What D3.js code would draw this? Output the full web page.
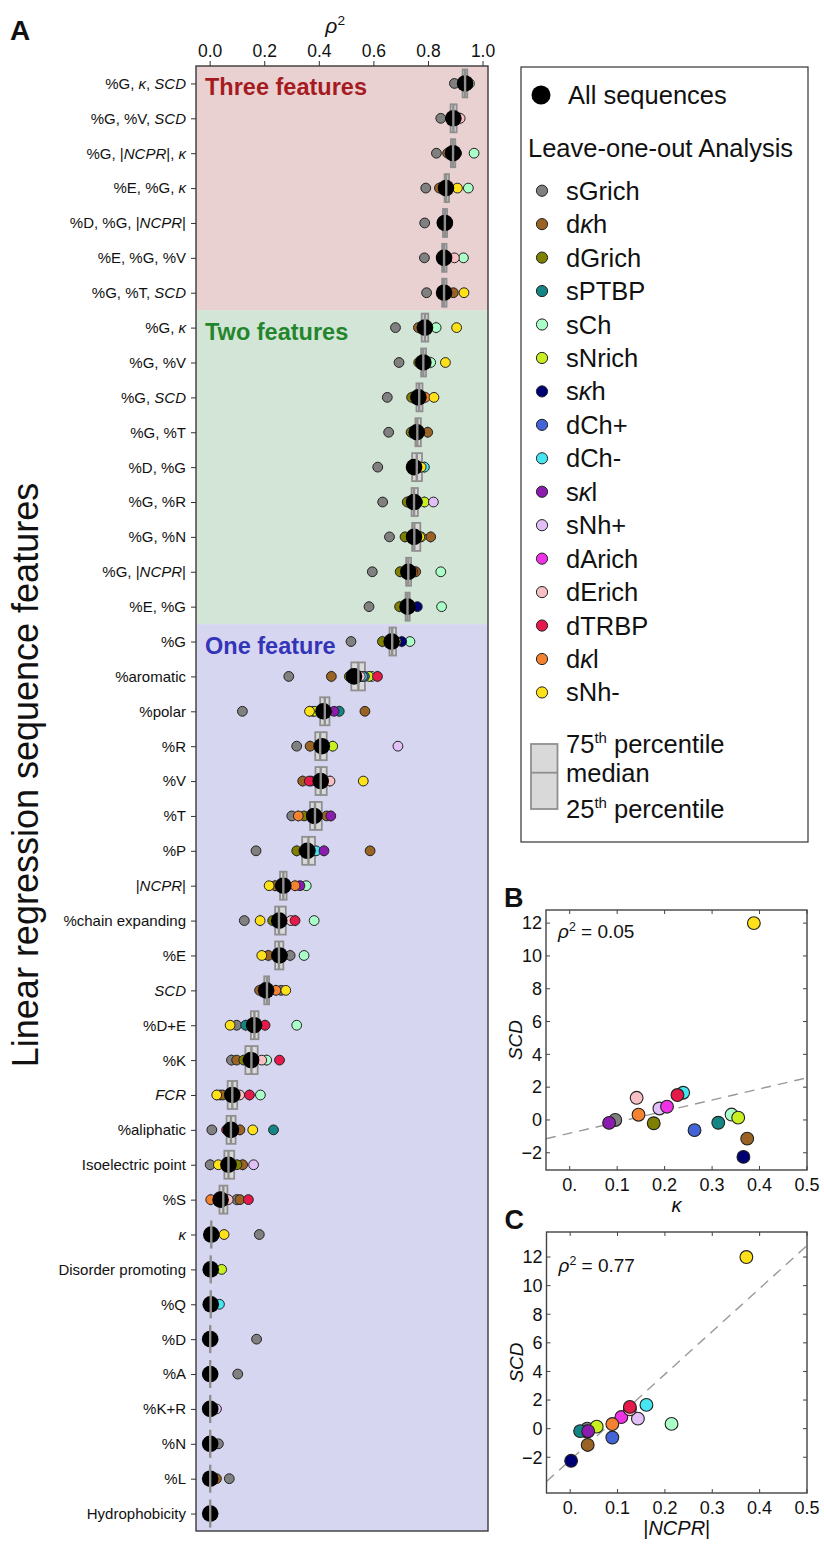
<!DOCTYPE html>
<html>
<head>
<meta charset="utf-8">
<script src="https://cdn.jsdelivr.net/npm/d3@7"></script>
<style>
  body { margin: 0; background: #fff; }
  svg { display: block; }
  text { font-family: "Liberation Sans", Arial, Helvetica, sans-serif; fill: #111; }
</style>
</head>
<body>
<svg id="fig" width="824" height="1546"></svg>
<script>
// ---------- data ----------
// Feature sets (underscores mark italic runs)
const features = [
  "%G, _κ_, _SCD_", "%G, %V, _SCD_", "%G, |_NCPR_|, _κ_", "%E, %G, _κ_", "%D, %G, |_NCPR_|",
  "%E, %G, %V", "%G, %T, _SCD_",
  "%G, _κ_", "%G, %V", "%G, _SCD_", "%G, %T", "%D, %G", "%G, %R", "%G, %N", "%G, |_NCPR_|", "%E, %G",
  "%G", "%aromatic", "%polar", "%R", "%V", "%T", "%P", "|_NCPR_|", "%chain expanding", "%E",
  "_SCD_", "%D+E", "%K", "_FCR_", "%aliphatic", "Isoelectric point", "%S", "_κ_",
  "Disorder promoting", "%Q", "%D", "%A", "%K+R", "%N", "%L", "Hydrophobicity"
];

// rho^2 with all sequences
const allSeq = [
  0.936, 0.893, 0.892, 0.866, 0.862, 0.859, 0.859,
  0.789, 0.783, 0.765, 0.759, 0.749, 0.749, 0.749, 0.728, 0.725,
  0.667, 0.529, 0.417, 0.411, 0.407, 0.383, 0.358, 0.270, 0.255, 0.256,
  0.207, 0.163, 0.152, 0.083, 0.078, 0.069, 0.040, 0.006,
  0.004, 0.004, 0.002, 0.002, 0.002, 0.002, 0.002, 0.002
];

// Leave-one-out percentiles
const q25 = [
  0.927, 0.883, 0.884, 0.861, 0.855, 0.852, 0.852,
  0.777, 0.775, 0.758, 0.754, 0.742, 0.740, 0.742, 0.720, 0.718,
  0.659, 0.519, 0.405, 0.387, 0.388, 0.368, 0.339, 0.258, 0.240, 0.240,
  0.200, 0.151, 0.131, 0.066, 0.062, 0.054, 0.036, 0.006,
  0.004, 0.004, 0.002, 0.002, 0.002, 0.002, 0.002, 0.002
];
const q50 = [
  0.936, 0.893, 0.892, 0.867, 0.862, 0.859, 0.859,
  0.789, 0.783, 0.768, 0.761, 0.759, 0.749, 0.750, 0.728, 0.725,
  0.669, 0.545, 0.422, 0.405, 0.407, 0.386, 0.362, 0.270, 0.254, 0.254,
  0.210, 0.164, 0.153, 0.083, 0.078, 0.069, 0.050, 0.006,
  0.004, 0.004, 0.002, 0.002, 0.002, 0.002, 0.002, 0.002
];
const q75 = [
  0.944, 0.905, 0.900, 0.877, 0.870, 0.868, 0.868,
  0.801, 0.793, 0.780, 0.774, 0.778, 0.763, 0.772, 0.738, 0.733,
  0.683, 0.569, 0.439, 0.429, 0.429, 0.411, 0.386, 0.282, 0.279, 0.270,
  0.218, 0.179, 0.176, 0.101, 0.095, 0.090, 0.065, 0.006,
  0.004, 0.004, 0.002, 0.002, 0.002, 0.002, 0.002, 0.002
];

// Left-out sequence sets
const seqNames = ["sGrich", "d_κ_h", "dGrich", "sPTBP", "sCh", "sNrich", "s_κ_h", "dCh+",
                  "dCh-", "s_κ_l", "sNh+", "dArich", "dErich", "dTRBP", "d_κ_l", "sNh-"];
const seqColors = ["#808080", "#9a6324", "#808000", "#138585", "#aaffc8", "#c8f020", "#000075", "#4363d8",
                   "#45e6f2", "#8c1cb0", "#e2c0f7", "#f032e6", "#f8c0c4", "#e6194b", "#f58231", "#ffe119"];

// rho^2 for each feature set with one sequence set left out (columns follow seqNames)
const loo = [
  [0.897, 0.930, 0.932, 0.936, 0.952, 0.935, 0.940, 0.937, 0.939, 0.934, 0.936, 0.938, 0.941, 0.936, 0.933, 0.938],
  [0.847, 0.887, 0.886, 0.892, 0.896, 0.890, 0.895, 0.893, 0.897, 0.889, 0.894, 0.893, 0.918, 0.892, 0.890, 0.898],
  [0.831, 0.872, 0.905, 0.893, 0.969, 0.890, 0.894, 0.892, 0.896, 0.889, 0.893, 0.891, 0.895, 0.892, 0.888, 0.897],
  [0.792, 0.842, 0.858, 0.866, 0.948, 0.864, 0.870, 0.867, 0.871, 0.862, 0.866, 0.868, 0.872, 0.866, 0.861, 0.908],
  [0.788, 0.852, 0.857, 0.862, 0.870, 0.860, 0.864, 0.862, 0.866, 0.858, 0.862, 0.863, 0.867, 0.862, 0.857, 0.866],
  [0.787, 0.850, 0.854, 0.859, 0.930, 0.857, 0.862, 0.859, 0.863, 0.855, 0.859, 0.860, 0.897, 0.859, 0.854, 0.866],
  [0.795, 0.893, 0.852, 0.859, 0.866, 0.857, 0.862, 0.859, 0.863, 0.855, 0.859, 0.860, 0.864, 0.859, 0.854, 0.932],
  [0.681, 0.765, 0.778, 0.789, 0.830, 0.786, 0.793, 0.789, 0.795, 0.783, 0.790, 0.791, 0.797, 0.789, 0.781, 0.905],
  [0.694, 0.776, 0.766, 0.783, 0.810, 0.781, 0.787, 0.783, 0.789, 0.778, 0.784, 0.785, 0.791, 0.783, 0.776, 0.864],
  [0.651, 0.772, 0.740, 0.766, 0.775, 0.762, 0.770, 0.766, 0.771, 0.760, 0.766, 0.768, 0.774, 0.766, 0.790, 0.822],
  [0.656, 0.799, 0.738, 0.760, 0.768, 0.757, 0.763, 0.760, 0.766, 0.754, 0.760, 0.761, 0.770, 0.760, 0.753, 0.765],
  [0.616, 0.744, 0.740, 0.755, 0.760, 0.748, 0.752, 0.758, 0.787, 0.743, 0.760, 0.762, 0.770, 0.765, 0.742, 0.775],
  [0.634, 0.740, 0.724, 0.749, 0.758, 0.787, 0.752, 0.746, 0.754, 0.742, 0.820, 0.747, 0.760, 0.745, 0.741, 0.762],
  [0.659, 0.810, 0.716, 0.750, 0.760, 0.775, 0.753, 0.748, 0.756, 0.742, 0.750, 0.748, 0.768, 0.745, 0.742, 0.770],
  [0.596, 0.755, 0.698, 0.728, 0.847, 0.726, 0.731, 0.728, 0.733, 0.720, 0.729, 0.728, 0.736, 0.727, 0.745, 0.734],
  [0.584, 0.718, 0.696, 0.725, 0.850, 0.723, 0.761, 0.725, 0.730, 0.718, 0.726, 0.725, 0.733, 0.724, 0.717, 0.731],
  [0.518, 0.660, 0.633, 0.668, 0.734, 0.665, 0.704, 0.669, 0.675, 0.660, 0.669, 0.670, 0.680, 0.668, 0.658, 0.683],
  [0.290, 0.446, 0.512, 0.545, 0.594, 0.584, 0.555, 0.567, 0.560, 0.535, 0.546, 0.540, 0.552, 0.615, 0.525, 0.520],
  [0.120, 0.569, 0.378, 0.475, 0.430, 0.385, 0.420, 0.425, 0.428, 0.456, 0.418, 0.422, 0.430, 0.415, 0.410, 0.366],
  [0.319, 0.368, 0.400, 0.412, 0.420, 0.451, 0.410, 0.415, 0.418, 0.405, 0.690, 0.412, 0.416, 0.408, 0.402, 0.406],
  [0.395, 0.341, 0.398, 0.405, 0.415, 0.403, 0.410, 0.408, 0.412, 0.400, 0.409, 0.372, 0.441, 0.365, 0.398, 0.563],
  [0.301, 0.429, 0.346, 0.385, 0.392, 0.380, 0.388, 0.386, 0.390, 0.444, 0.384, 0.385, 0.395, 0.383, 0.325, 0.378],
  [0.170, 0.588, 0.319, 0.360, 0.372, 0.355, 0.362, 0.362, 0.390, 0.419, 0.360, 0.358, 0.368, 0.356, 0.345, 0.350],
  [0.262, 0.240, 0.258, 0.272, 0.354, 0.268, 0.274, 0.270, 0.278, 0.331, 0.270, 0.272, 0.280, 0.275, 0.313, 0.218],
  [0.127, 0.248, 0.231, 0.255, 0.383, 0.252, 0.258, 0.255, 0.262, 0.250, 0.256, 0.257, 0.298, 0.313, 0.247, 0.185],
  [0.295, 0.215, 0.245, 0.256, 0.346, 0.253, 0.259, 0.256, 0.262, 0.250, 0.257, 0.258, 0.266, 0.256, 0.248, 0.191],
  [0.262, 0.183, 0.200, 0.207, 0.214, 0.205, 0.210, 0.207, 0.212, 0.202, 0.208, 0.209, 0.215, 0.207, 0.243, 0.279],
  [0.099, 0.155, 0.150, 0.132, 0.319, 0.162, 0.166, 0.163, 0.170, 0.158, 0.164, 0.165, 0.175, 0.203, 0.158, 0.075],
  [0.080, 0.099, 0.125, 0.152, 0.209, 0.150, 0.155, 0.152, 0.160, 0.146, 0.153, 0.154, 0.191, 0.256, 0.145, 0.140],
  [0.038, 0.048, 0.075, 0.083, 0.186, 0.082, 0.086, 0.083, 0.090, 0.078, 0.084, 0.085, 0.110, 0.146, 0.078, 0.026],
  [0.008, 0.111, 0.070, 0.234, 0.085, 0.077, 0.080, 0.078, 0.084, 0.072, 0.079, 0.080, 0.088, 0.062, 0.073, 0.158],
  [0.002, 0.121, 0.100, 0.062, 0.075, 0.068, 0.072, 0.069, 0.076, 0.064, 0.161, 0.070, 0.078, 0.069, 0.060, 0.032],
  [0.099, 0.111, 0.038, 0.045, 0.050, 0.040, 0.048, 0.042, 0.052, 0.036, 0.050, 0.046, 0.068, 0.142, 0.004, 0.044],
  [0.182, 0.006, 0.005, 0.006, 0.007, 0.006, 0.005, 0.006, 0.007, 0.006, 0.006, 0.006, 0.007, 0.006, 0.005, 0.053],
  [0.004, 0.004, 0.003, 0.004, 0.005, 0.044, 0.004, 0.004, 0.005, 0.004, 0.004, 0.004, 0.005, 0.004, 0.003, 0.004],
  [0.004, 0.004, 0.003, 0.004, 0.005, 0.004, 0.004, 0.004, 0.036, 0.004, 0.004, 0.004, 0.005, 0.004, 0.003, 0.004],
  [0.172, 0.002, 0.002, 0.002, 0.003, 0.002, 0.002, 0.002, 0.003, 0.002, 0.002, 0.002, 0.003, 0.002, 0.001, 0.002],
  [0.103, 0.002, 0.002, 0.002, 0.003, 0.002, 0.002, 0.002, 0.003, 0.002, 0.002, 0.002, 0.003, 0.002, 0.001, 0.002],
  [0.003, 0.002, 0.002, 0.002, 0.003, 0.002, 0.002, 0.002, 0.003, 0.002, 0.025, 0.002, 0.003, 0.002, 0.001, 0.002],
  [0.032, 0.002, 0.002, 0.002, 0.003, 0.002, 0.002, 0.002, 0.003, 0.002, 0.002, 0.002, 0.003, 0.002, 0.001, 0.002],
  [0.072, 0.025, 0.002, 0.002, 0.003, 0.002, 0.002, 0.002, 0.003, 0.002, 0.002, 0.002, 0.003, 0.002, 0.001, 0.002],
  [0.002, 0.002, 0.002, 0.002, 0.003, 0.002, 0.002, 0.002, 0.003, 0.002, 0.002, 0.002, 0.003, 0.002, 0.001, 0.002]
];

const groupNames = ["Three features", "Two features", "One feature"];
const groupFirst = [0, 7, 16];
const groupLast = [6, 15, 41];
const rhoTicks = [0, 0.2, 0.4, 0.6, 0.8, 1.0];

// Per-sequence-set properties (order follows seqNames)
const kappaVals = [0.096, 0.374, 0.177, 0.313, 0.341, 0.355, 0.366, 0.263, 0.239, 0.083, 0.189, 0.205, 0.141, 0.227, 0.145, 0.388];
const ncprVals  = [0.036, 0.037, 0.035, 0.021, 0.214, 0.056, 0.002, 0.089, 0.161, 0.038, 0.143, 0.108, 0.126, 0.126, 0.089, 0.372];
const scdVals   = [0.00, -1.14, -0.20, -0.17, 0.33, 0.14, -2.25, -0.62, 1.66, -0.18, 0.70, 0.81, 1.35, 1.52, 0.32, 12.0];
// Linear fits [intercept, slope] and reported rho^2
const fitKappa = [-0.81, 6.76];
const fitNcpr  = [-2.20, 30.0];
const rho2Kappa = "0.05";
const rho2Ncpr  = "0.77";
const scatterXTicks = [0, 0.1, 0.2, 0.3, 0.4, 0.5];
const scatterYTicks = [-2, 0, 2, 4, 6, 8, 10, 12];

// ---------- helpers ----------
const svg = d3.select("#fig");

function rich(sel, s) {
  s.split("_").forEach((part, i) => {
    if (part) sel.append("tspan").attr("font-style", i % 2 ? "italic" : "normal").text(part);
  });
  return sel;
}

function rhoSq(sel, suffix) {
  sel.append("tspan").attr("font-style", "italic").text("ρ");
  sel.append("tspan").attr("font-size", "0.65em").attr("dy", "-0.55em").text("2");
  if (suffix) sel.append("tspan").attr("dy", "0.36em").text(suffix);
  return sel;
}

// ---------- panel A ----------
const A = { left: 196, right: 488, top: 66, bottom: 1531 };
const x = d3.scaleLinear().domain([-0.05, 1.02]).range([A.left, A.right]);
const y = d3.scalePoint().domain(d3.range(features.length)).range([A.top, A.bottom]).padding(0.5);
const step = y.step();

const groupFill = ["#e9d0d1", "#d3e5d6", "#d6d6f0"];
const groupInk = ["#a51b1f", "#24862c", "#3434b8"];

groupNames.forEach((g, i) => {
  svg.append("rect")
    .attr("x", A.left).attr("width", A.right - A.left)
    .attr("y", y(groupFirst[i]) - step / 2)
    .attr("height", y(groupLast[i]) - y(groupFirst[i]) + step)
    .attr("fill", groupFill[i]);
  svg.append("text")
    .attr("x", A.left + 9).attr("y", y(groupFirst[i]) + 12)
    .attr("font-size", 23.5).attr("font-weight", "bold")
    .style("fill", groupInk[i]).text(g);
});

const rowsG = svg.append("g");
features.forEach((f, i) => {
  const cy = y(i);
  const g = rowsG.append("g");
  const vals = loo[i];
  const iqr = q75[i] - q25[i];
  const inside = vals.filter(v => v >= q25[i] - 1.5 * iqr && v <= q75[i] + 1.5 * iqr);
  const wLo = d3.min(inside), wHi = d3.max(inside);

  // box
  g.append("rect")
    .attr("x", x(q25[i])).attr("width", x(q75[i]) - x(q25[i]))
    .attr("y", cy - 14).attr("height", 28)
    .attr("fill", "#d9d9d9").attr("stroke", "#8f8f8f").attr("stroke-width", 1.8);
  // whisker caps
  [wLo, wHi].forEach(w => {
    g.append("line")
      .attr("x1", x(w)).attr("x2", x(w))
      .attr("y1", cy - 6).attr("y2", cy + 6)
      .attr("stroke", "#9a9a9a").attr("stroke-width", 1.2);
  });
  // leave-one-out points
  vals.forEach((v, k) => {
    g.append("circle")
      .attr("cx", x(v)).attr("cy", cy).attr("r", 4.9)
      .attr("fill", seqColors[k]).attr("stroke", "#222").attr("stroke-width", 1);
  });
  // all sequences
  g.append("circle")
    .attr("cx", x(allSeq[i])).attr("cy", cy).attr("r", 8.3)
    .attr("fill", "#000");
  // median
  g.append("line")
    .attr("x1", x(q50[i])).attr("x2", x(q50[i]))
    .attr("y1", cy - 14).attr("y2", cy + 14)
    .attr("stroke", "#8f8f8f").attr("stroke-width", 2.4);
});

// frame
svg.append("rect")
  .attr("x", A.left).attr("y", A.top)
  .attr("width", A.right - A.left).attr("height", A.bottom - A.top)
  .attr("fill", "none").attr("stroke", "#3a3a3a").attr("stroke-width", 1.4);

// top axis
const axTop = svg.append("g").attr("transform", `translate(0,${A.top})`)
  .call(d3.axisTop(x).tickValues(rhoTicks).tickFormat(d3.format(".1f")).tickSize(5).tickPadding(4));
axTop.select(".domain").remove();
axTop.selectAll(".tick line").attr("stroke", "#333");
axTop.selectAll(".tick text").attr("font-size", 17.5).attr("font-family", "Liberation Sans, Arial, sans-serif").style("fill", "#111");

svg.append("text").attr("x", x(0.46)).attr("y", 33).attr("font-size", 21).attr("text-anchor", "middle")
  .call(s => rhoSq(s, ""));

// left axis with feature labels
const axLeft = svg.append("g").attr("transform", `translate(${A.left},0)`)
  .call(d3.axisLeft(y).tickSize(5).tickFormat(""));
axLeft.select(".domain").remove();
axLeft.selectAll(".tick line").attr("stroke", "#333");
features.forEach((f, i) => {
  svg.append("text")
    .attr("x", A.left - 10).attr("y", y(i)).attr("dy", "0.36em")
    .attr("text-anchor", "end").attr("font-size", 15)
    .call(s => rich(s, f));
});

svg.append("text")
  .attr("transform", "translate(38,775) rotate(-90)")
  .attr("text-anchor", "middle").attr("font-size", 36)
  .text("Linear regression sequence features");

svg.append("text").attr("x", 10).attr("y", 40).attr("font-size", 28).attr("font-weight", "bold").text("A");

// ---------- legend ----------
const L = { left: 521, top: 67, right: 808, bottom: 842 };
const legFont = 25.5;
svg.append("rect").attr("x", L.left).attr("y", L.top)
  .attr("width", L.right - L.left).attr("height", L.bottom - L.top)
  .attr("fill", "#fff").attr("stroke", "#333").attr("stroke-width", 1.2);

svg.append("circle").attr("cx", 541).attr("cy", 95).attr("r", 9.5).attr("fill", "#000");
svg.append("text").attr("x", 568).attr("y", 104).attr("font-size", legFont).text("All sequences");
svg.append("text").attr("x", 528).attr("y", 157).attr("font-size", legFont).text("Leave-one-out Analysis");

seqNames.forEach((n, k) => {
  const cy = 190.7 + 33.45 * k;
  svg.append("circle").attr("cx", 542).attr("cy", cy).attr("r", 5.6)
    .attr("fill", seqColors[k]).attr("stroke", "#222").attr("stroke-width", 1);
  svg.append("text").attr("x", 566).attr("y", cy + 9).attr("font-size", legFont)
    .call(s => rich(s, n));
});

svg.append("rect").attr("x", 531).attr("y", 744).attr("width", 26.5).attr("height", 65)
  .attr("fill", "#d9d9d9").attr("stroke", "#8f8f8f").attr("stroke-width", 1.8);
svg.append("line").attr("x1", 531).attr("x2", 557.5).attr("y1", 772.7).attr("y2", 772.7)
  .attr("stroke", "#8f8f8f").attr("stroke-width", 1.8);

function pctLabel(yb, num) {
  const t = svg.append("text").attr("x", 566).attr("y", yb).attr("font-size", legFont);
  t.append("tspan").text(num);
  t.append("tspan").attr("font-size", 15).attr("dy", -10).text("th");
  t.append("tspan").attr("dy", 10).text(" percentile");
}
pctLabel(753, "75");
svg.append("text").attr("x", 566).attr("y", 782).attr("font-size", legFont).text("median");
pctLabel(818, "25");

// ---------- scatter panels B and C ----------
function scatter(opts) {
  const { left, right, top, bottom, yDomain, xVals, fit, rho, letter, xLabel } = opts;
  const sx = d3.scaleLinear().domain([-0.05, 0.5]).range([left, right]);
  const sy = d3.scaleLinear().domain(yDomain).range([bottom, top]);
  const g = svg.append("g");

  g.append("rect").attr("x", left).attr("y", top).attr("width", right - left).attr("height", bottom - top)
    .attr("fill", "#fff");

  // fitted line
  const x0 = sx.domain()[0], x1 = sx.domain()[1];
  g.append("line")
    .attr("x1", sx(x0)).attr("y1", sy(fit[0] + fit[1] * x0))
    .attr("x2", sx(x1)).attr("y2", sy(fit[0] + fit[1] * x1))
    .attr("stroke", "#999").attr("stroke-width", 1.4).attr("stroke-dasharray", "10,7");

  // points
  xVals.forEach((v, k) => {
    g.append("circle").attr("cx", sx(v)).attr("cy", sy(scdVals[k])).attr("r", 6.4)
      .attr("fill", seqColors[k]).attr("stroke", "#222").attr("stroke-width", 1.1);
  });

  // frame
  g.append("rect").attr("x", left).attr("y", top).attr("width", right - left).attr("height", bottom - top)
    .attr("fill", "none").attr("stroke", "#444").attr("stroke-width", 1.4);

  // inward ticks on all sides
  const tk = 4;
  scatterXTicks.forEach(t => {
    g.append("line").attr("x1", sx(t)).attr("x2", sx(t)).attr("y1", bottom).attr("y2", bottom - tk).attr("stroke", "#444");
    g.append("line").attr("x1", sx(t)).attr("x2", sx(t)).attr("y1", top).attr("y2", top + tk).attr("stroke", "#444");
    g.append("text").attr("x", sx(t)).attr("y", bottom + 21).attr("text-anchor", "middle").attr("font-size", 18)
      .text(t === 0 ? "0." : d3.format(".1f")(t));
  });
  scatterYTicks.forEach(t => {
    g.append("line").attr("x1", left).attr("x2", left + tk).attr("y1", sy(t)).attr("y2", sy(t)).attr("stroke", "#444");
    g.append("line").attr("x1", right).attr("x2", right - tk).attr("y1", sy(t)).attr("y2", sy(t)).attr("stroke", "#444");
    g.append("text").attr("x", left - 4).attr("y", sy(t)).attr("dy", "0.35em").attr("text-anchor", "end").attr("font-size", 18)
      .text(t < 0 ? "\u2212" + Math.abs(t) : String(t));
  });

  g.append("text").attr("x", left + 12).attr("y", sy(12) + 15).attr("font-size", 19)
    .call(s => rhoSq(s, " = " + rho));

  g.append("text").attr("x", (left + right) / 2).attr("y", bottom + 42).attr("text-anchor", "middle")
    .attr("font-size", 20).call(s => rich(s, xLabel));

  g.append("text").attr("transform", `translate(${left - 24},${(top + bottom) / 2}) rotate(-90)`)
    .attr("text-anchor", "middle").attr("font-size", 19).attr("font-style", "italic").text("SCD");

  g.append("text").attr("x", left - 42).attr("y", top - 3).attr("font-size", 27).attr("font-weight", "bold").text(letter);
}

scatter({ left: 546, right: 807, top: 910, bottom: 1170, yDomain: [-3.05, 12.8],
          xVals: kappaVals, fit: fitKappa, rho: rho2Kappa, letter: "B", xLabel: "_κ_" });
scatter({ left: 546.5, right: 807, top: 1232, bottom: 1493, yDomain: [-4.5, 13.75],
          xVals: ncprVals, fit: fitNcpr, rho: rho2Ncpr, letter: "C", xLabel: "|_NCPR_|" });
</script>
</body>
</html>
